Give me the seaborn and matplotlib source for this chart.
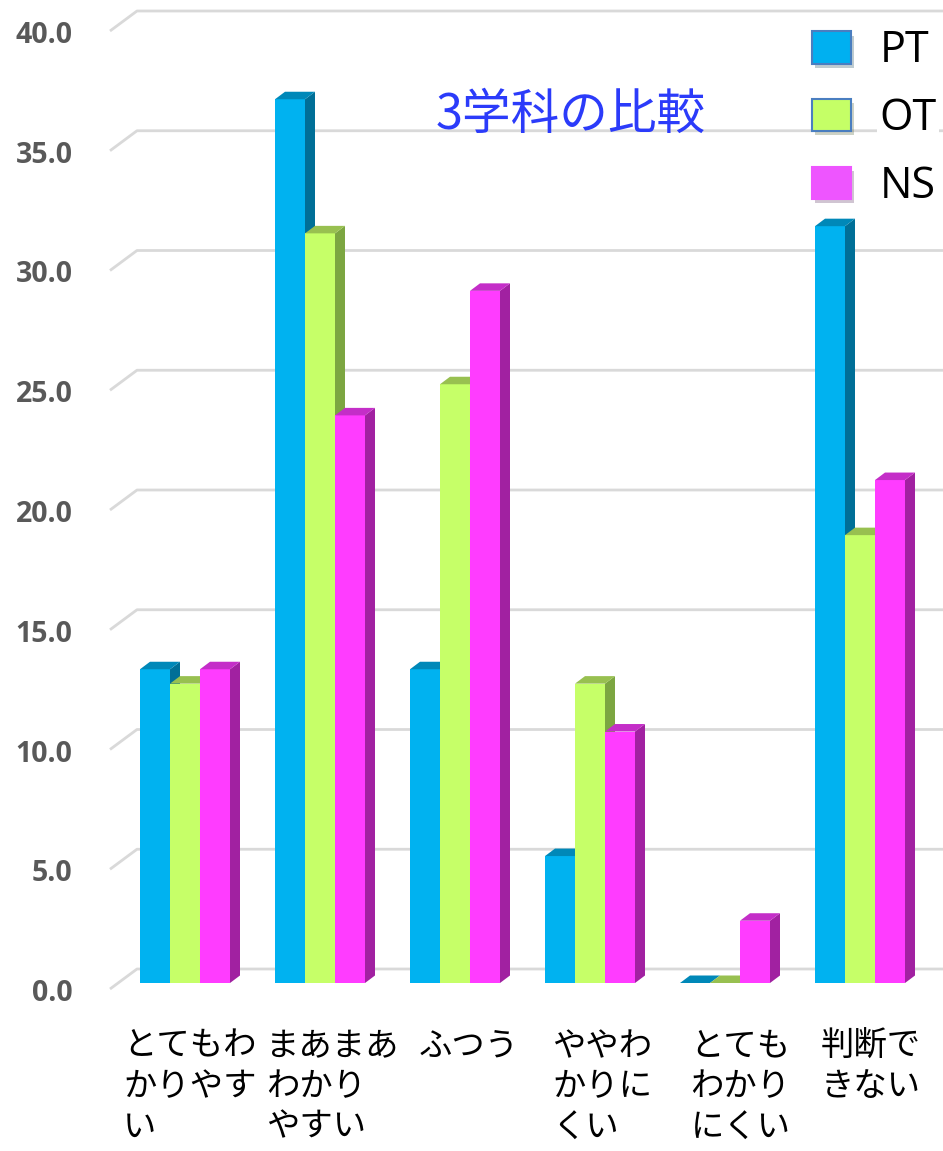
import numpy as np
import pandas as pd
import matplotlib
matplotlib.use("Agg")
import matplotlib.pyplot as plt
import seaborn as sns
from matplotlib.patches import Polygon, Patch
from matplotlib.transforms import ScaledTranslation
import matplotlib.patheffects as pe

# ---------------- data ----------------
categories = ["とてもわ\nかりやす\nい", "まあまあ\nわかり\nやすい", "ふつう",
              "ややわ\nかりに\nくい", "とても\nわかり\nにくい", "判断で\nきない"]
series = ["PT", "OT", "NS"]
pt_values = [13.1, 36.9, 13.1, 5.3, 0.0, 31.6]
ot_values = [12.5, 31.3, 25.0, 12.5, 0.0, 18.7]
ns_values = [13.1, 23.7, 28.9, 10.5, 2.6, 21.0]
yticks = [0, 5, 10, 15, 20, 25, 30, 35, 40]
ytick_labels = ["0.0", "5.0", "10.0", "15.0", "20.0", "25.0", "30.0", "35.0", "40.0"]
title = "3学科の比較"

front_colors = {"PT": "#00B2F0", "OT": "#C6FF68", "NS": "#FF3CFF"}
side_colors = {"PT": "#006F97", "OT": "#7CA641", "NS": "#A121A1"}
top_colors = {"PT": "#0088B8", "OT": "#98C050", "NS": "#C42EC8"}
legend_colors = {"PT": "#00B0F0", "OT": "#C5FF66", "NS": "#EE55FF"}

# ---------------- figure ----------------
sns.set_style("white")
plt.rcParams['font.family'] = ['Noto Sans CJK JP', 'DejaVu Sans']
plt.rcParams['text.color'] = 'black'

W, H = 943, 1151
fig = plt.figure(figsize=(W / 100, H / 100), dpi=100)
ax = fig.add_axes([110 / W, (H - 983) / H, 833 / W, 958 / H])

df = pd.DataFrame({
    "category": np.repeat(categories, 3),
    "series": series * len(categories),
    "value": np.ravel(np.column_stack([pt_values, ot_values, ns_values])),
})

sns.barplot(data=df, x="category", y="value", hue="series", order=categories,
            hue_order=series, palette=front_colors, width=90 / 135,
            saturation=1, linewidth=0, legend=False, ax=ax, errorbar=None)

xpx = 135.0
xmin = -75 / xpx
xmax = xmin + 833 / xpx
ax.set_xlim(xmin, xmax)
ax.set_ylim(0, 40)
ypx = 958 / 40.0

# 3D faces on bars
ddx, ddy = 10 / xpx, 7.5 / ypx
for i, (cont, s) in enumerate(zip(ax.containers, series)):
    for p in cont.patches:
        p.set_zorder(3 + i)
        x0, w, h = p.get_x(), p.get_width(), p.get_height()
        side = Polygon([(x0 + w, 0), (x0 + w + ddx, ddy), (x0 + w + ddx, h + ddy), (x0 + w, h)],
                       closed=True, facecolor=side_colors[s], edgecolor='none',
                       zorder=3 + i, clip_on=False)
        top = Polygon([(x0, h), (x0 + w, h), (x0 + w + ddx, h + ddy), (x0 + ddx, h + ddy)],
                      closed=True, facecolor=top_colors[s], edgecolor='none',
                      zorder=3 + i, clip_on=False)
        ax.add_patch(side)
        ax.add_patch(top)

# perspective gridlines
gx = 27 / xpx
for v in yticks:
    yb = v + 14 / ypx
    yf = v - 6 / ypx
    ax.plot([xmin, xmin + gx, xmax], [yf, yb, yb], color="#D9D9D9", lw=2,
            zorder=1, clip_on=False, solid_capstyle='butt')

for sp in ax.spines.values():
    sp.set_visible(False)
ax.grid(False)
ax.set_xlabel("")
ax.set_ylabel("")

# y tick labels
ax.set_yticks(yticks)
ax.set_yticklabels(ytick_labels, fontsize=20.5, fontweight='bold', color="#595959",
                   family=['Open Sans', 'DejaVu Sans'])
ax.tick_params(axis='y', length=0, pad=27)
for lab in ax.get_yticklabels():
    lab.set_transform(lab.get_transform() + ScaledTranslation(0, -0.07, fig.dpi_scale_trans))

# x tick labels
ax.set_xticks(range(len(categories)))
ax.set_xticklabels(categories, fontsize=24, color="black", linespacing=1.2,
                   multialignment='left')
ax.tick_params(axis='x', length=0, pad=33)
label_shift = [0.05, 0.13, 0.14, 0.12, 0.155, 0.11]
for lab, dx in zip(ax.get_xticklabels(), label_shift):
    lab.set_transform(lab.get_transform() + ScaledTranslation(dx, 0, fig.dpi_scale_trans))

# title
fig.text(571 / W, 1 - 115 / H, title, color="#2B3BFA", fontsize=35, ha='center', va='center')

# legend
handles = [Patch(facecolor=legend_colors[s],
                 edgecolor=("#4A7EC0" if s != "NS" else legend_colors[s]), linewidth=1.5,
                 path_effects=[pe.SimplePatchShadow(offset=(2, -3), alpha=0.25), pe.Normal()])
           for s in series]
leg = fig.legend(handles, series, loc='upper left', bbox_to_anchor=(812 / W, 1 - 29 / H),
                 frameon=False, handlelength=0.9, handleheight=0.77,
                 handletextpad=0.67, labelspacing=0.54, borderpad=0, borderaxespad=0,
                 prop={'family': ['Open Sans', 'DejaVu Sans'], 'size': 31})
for t in leg.get_texts():
    t.set_color('black')
    t.set_bbox(dict(facecolor='white', edgecolor='none', pad=2))

fig.savefig("out.png", dpi=100, facecolor='white')
